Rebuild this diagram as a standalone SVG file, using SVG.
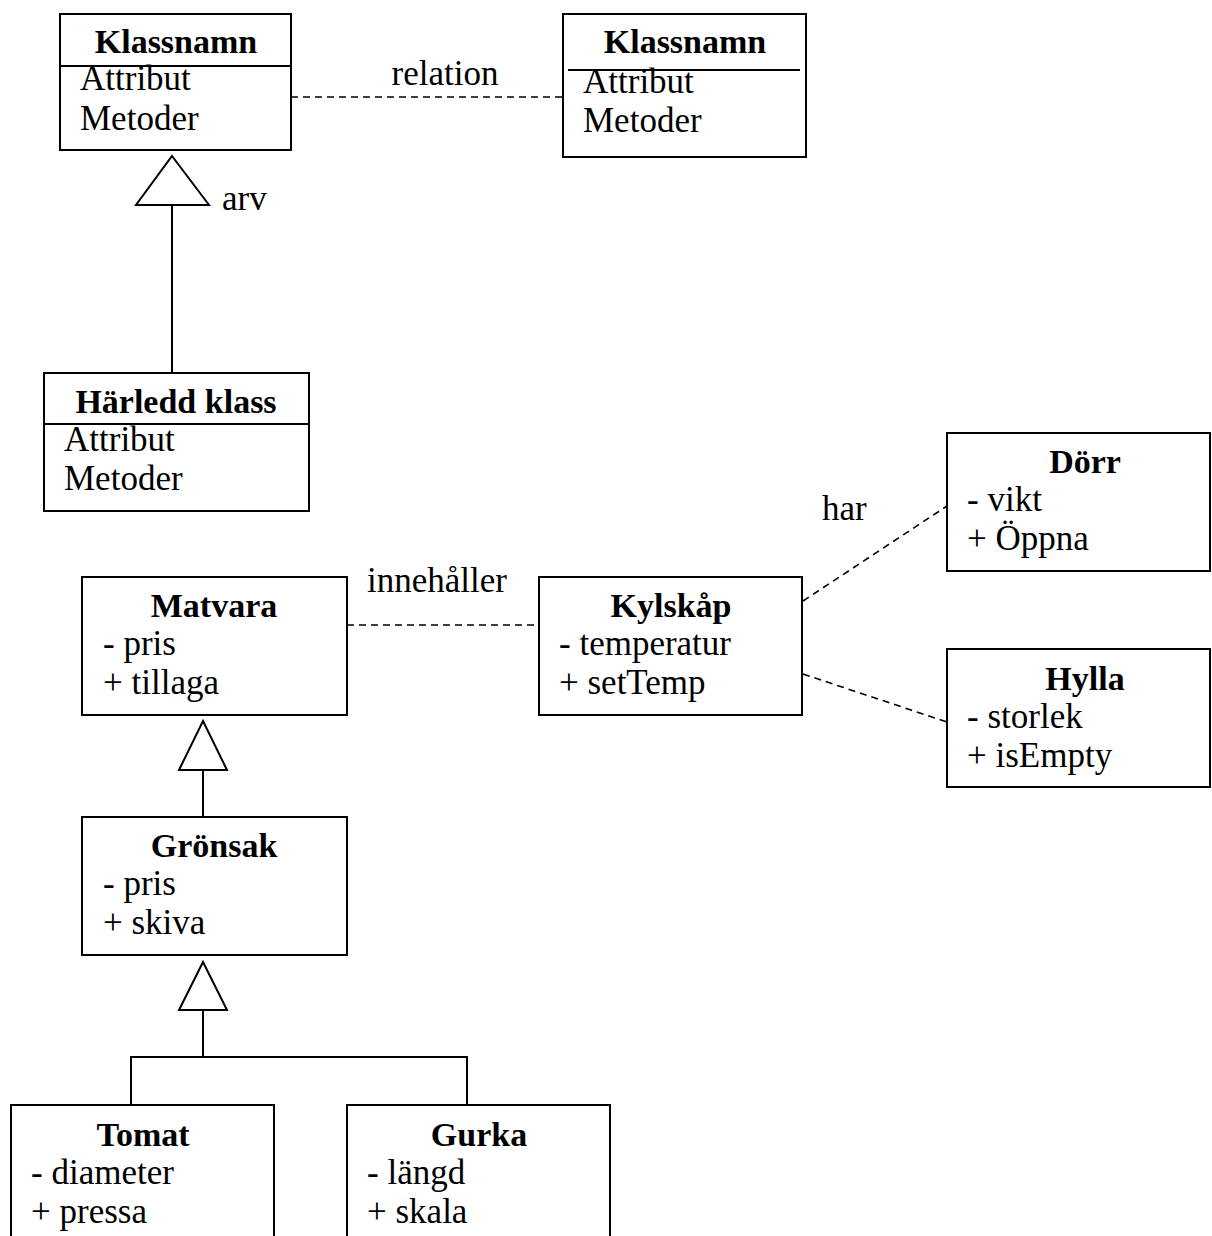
<svg xmlns="http://www.w3.org/2000/svg" width="1212" height="1236" viewBox="0 0 1212 1236">
<style>
.box{fill:#fff;stroke:#000;stroke-width:2}
.ln{fill:none;stroke:#000;stroke-width:2}
.dash{fill:none;stroke:#000;stroke-width:1.6;stroke-dasharray:7,5}
.tri{fill:#fff;stroke:#000;stroke-width:2}
text{font-family:"Liberation Serif","Times New Roman",serif;font-size:35px;fill:#000}
.t{font-weight:bold;font-size:34px;text-anchor:middle}
</style>
<rect width="1212" height="1236" fill="#fff"/>
<g id="connectors">
<line class="dash" x1="291" y1="97" x2="563" y2="97"/>
<line class="ln" x1="172" y1="205" x2="172" y2="373"/>
<polygon class="tri" points="172,156 209,205 136,205"/>
<line class="dash" x1="347" y1="625" x2="539" y2="625"/>
<line class="dash" x1="803" y1="601" x2="947" y2="506"/>
<line class="dash" x1="803" y1="674" x2="947" y2="722"/>
<line class="ln" x1="203" y1="770" x2="203" y2="817"/>
<polygon class="tri" points="203,721 227,770 179,770"/>
<polyline class="ln" points="131,1105 131,1057 467,1057 467,1105"/>
<line class="ln" x1="203" y1="1010" x2="203" y2="1057"/>
<polygon class="tri" points="203,962 227,1010 179,1010"/>
<text x="445" y="85" text-anchor="middle">relation</text>
<text x="222" y="210">arv</text>
<text x="437" y="592" text-anchor="middle">innehåller</text>
<text x="822" y="520">har</text>
</g>
<g id="klassnamn1">
<rect class="box" x="60" y="14" width="231" height="136"/>
<line class="ln" x1="60" y1="66" x2="291" y2="66"/>
<text class="t" x="176" y="53">Klassnamn</text>
<text x="80" y="90">Attribut</text>
<text x="80" y="130">Metoder</text>
</g>
<g id="klassnamn2">
<rect class="box" x="563" y="14" width="243" height="143"/>
<line class="ln" x1="568" y1="70" x2="800" y2="70"/>
<text class="t" x="685" y="53">Klassnamn</text>
<text x="583" y="93">Attribut</text>
<text x="583" y="132">Metoder</text>
</g>
<g id="harledd">
<rect class="box" x="44" y="373" width="265" height="138"/>
<line class="ln" x1="44" y1="424" x2="309" y2="424"/>
<text class="t" x="176" y="413">Härledd klass</text>
<text x="64" y="451">Attribut</text>
<text x="64" y="490">Metoder</text>
</g>
<g id="matvara">
<rect class="box" x="82" y="577" width="265" height="138"/>
<text class="t" x="214" y="617">Matvara</text>
<text x="103" y="655">- pris</text>
<text x="103" y="694">+ tillaga</text>
</g>
<g id="kylskap">
<rect class="box" x="539" y="577" width="263" height="138"/>
<text class="t" x="671" y="617">Kylskåp</text>
<text x="559" y="655">- temperatur</text>
<text x="559" y="694">+ setTemp</text>
</g>
<g id="dorr">
<rect class="box" x="947" y="433" width="263" height="138"/>
<text class="t" x="1085" y="473">Dörr</text>
<text x="967" y="511">- vikt</text>
<text x="967" y="550">+ Öppna</text>
</g>
<g id="hylla">
<rect class="box" x="947" y="649" width="263" height="138"/>
<text class="t" x="1085" y="690">Hylla</text>
<text x="967" y="728">- storlek</text>
<text x="967" y="767">+ isEmpty</text>
</g>
<g id="gronsak">
<rect class="box" x="82" y="817" width="265" height="138"/>
<text class="t" x="214" y="857">Grönsak</text>
<text x="103" y="895">- pris</text>
<text x="103" y="934">+ skiva</text>
</g>
<g id="tomat">
<rect class="box" x="11" y="1105" width="263" height="140"/>
<text class="t" x="143" y="1146">Tomat</text>
<text x="31" y="1184">- diameter</text>
<text x="31" y="1223">+ pressa</text>
</g>
<g id="gurka">
<rect class="box" x="347" y="1105" width="263" height="140"/>
<text class="t" x="479" y="1146">Gurka</text>
<text x="367" y="1184">- längd</text>
<text x="367" y="1223">+ skala</text>
</g>
</svg>
